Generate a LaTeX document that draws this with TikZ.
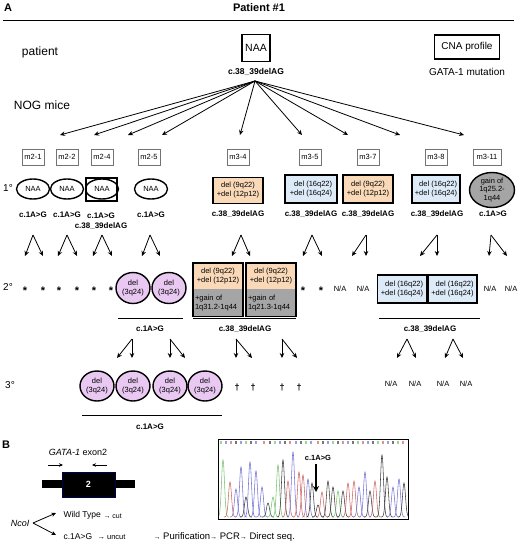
\documentclass[tikz,border=0pt]{standalone}
\usepackage{fontspec}
\setmainfont{Liberation Sans}
\usetikzlibrary{arrows.meta,shapes.geometric}
\definecolor{peach}{RGB}{250,217,184}
\definecolor{ltblue}{RGB}{221,235,248}
\definecolor{cnagray}{RGB}{165,165,165}
\definecolor{lilac}{RGB}{233,200,242}
\definecolor{chgreen}{RGB}{120,195,110}
\definecolor{chred}{RGB}{205,100,100}
\definecolor{chblue}{RGB}{115,115,215}
\definecolor{chblack}{RGB}{60,60,60}
\begin{document}
\begin{tikzpicture}[x=1pt,y=-1pt,
  arr/.style={line width=0.8pt,-{Stealth[length=5pt,width=4.5pt]}},
  mbox/.style={draw=black!55,fill=white,line width=0.7pt,minimum width=22pt,minimum height=16pt,inner sep=1pt,font=\fontsize{7.5}{8}\selectfont},
  naael/.style={ellipse,draw,line width=1.4pt,minimum width=33pt,minimum height=20pt,inner sep=0pt,font=\fontsize{7.5}{8}\selectfont},
  cbox/.style={draw,line width=1.5pt,minimum width=50pt,minimum height=26pt,inner sep=1pt,align=center,font=\fontsize{7.5}{9}\selectfont},
  pel/.style={ellipse,draw,line width=1.4pt,fill=lilac,minimum width=34pt,minimum height=31pt,inner sep=0pt,align=center,font=\fontsize{7.5}{8.5}\selectfont},
  mut/.style={font=\bfseries\fontsize{8}{10}\selectfont,align=center},
  big/.style={font=\fontsize{12}{14}\selectfont},
  deg/.style={font=\fontsize{10}{12}\selectfont},
  star/.style={font=\bfseries\fontsize{11}{12}\selectfont},
  na/.style={font=\fontsize{7.5}{9}\selectfont},
  btxt/.style={font=\fontsize{8.5}{10}\selectfont,anchor=west},
  uline/.style={line width=0.7pt}
]
\useasboundingbox (0,0) rectangle (520,545);

% header
\node[font=\bfseries\fontsize{11}{12}\selectfont] (labA) at (8,8) {A};
\node[font=\bfseries\fontsize{11}{12}\selectfont] (title) at (259,8) {Patient \#1};
\draw[line width=0.8pt] (3,20) -- (514,20);

\node[big] (patient) at (40,52) {patient};
\node[big] (nog) at (42,105) {NOG mice};
\node[draw,line width=1.5pt,minimum width=28pt,minimum height=27pt,inner sep=0pt,font=\fontsize{10.5}{12}\selectfont] (naa) at (256,48) {NAA};
\node[mut,font=\bfseries\fontsize{8.5}{10}\selectfont] (naamut) at (256,72) {c.38\_39delAG};
\node[draw,line width=1.5pt,minimum width=65pt,minimum height=24pt,inner sep=0pt,font=\fontsize{10}{12}\selectfont] (cna) at (467,47) {CNA profile};
\node[font=\fontsize{10}{12}\selectfont] (gata) at (467,72) {GATA-1 mutation};

% arrows from patient to mice
\coordinate (src) at (255,81);
\foreach \i/\x in {1/60,2/94,3/128,4/162,5/240,6/302,7/348,8/400,9/464}{
  \coordinate (t\i) at (\x,135);
  \draw[arr] (src) -- (t\i);
}

% mouse boxes
\node[mbox] (m21) at (33,157) {m2-1};
\node[mbox] (m22) at (67,157) {m2-2};
\node[mbox] (m24) at (102,157) {m2-4};
\node[mbox] (m25) at (149,157) {m2-5};
\node[mbox] (m34) at (238,157) {m3-4};
\node[mbox] (m35) at (310,157) {m3-5};
\node[mbox] (m37) at (368,157) {m3-7};
\node[mbox] (m38) at (436,157) {m3-8};
\node[mbox,minimum width=28pt] (m311) at (487,157) {m3-11};

% primary
\node[deg] (d1) at (8,188) {1°};
\node[naael] (p21) at (33,189) {NAA};
\node[naael] (p22) at (67,189) {NAA};
\node[naael] (p24) at (102,189) {NAA};
\node[draw,line width=1.5pt,minimum width=31pt,minimum height=23pt,inner sep=0pt] (p24box) at (101.5,189.5) {};
\node[naael] (p25) at (151,189) {NAA};
\node[cbox,fill=peach] (p34) at (238,190.5) {del (9q22)\\+del (12p12)};
\node[cbox,fill=ltblue,align=right,minimum width=52pt,minimum height=28pt] (p35) at (311,189) {del (16q22)\\+del (16q24)};
\node[cbox,fill=peach,minimum height=28pt] (p37) at (368,189) {del (9q22)\\+del (12p12)};
\node[cbox,fill=ltblue,align=right,minimum width=48pt,minimum height=28pt] (p38) at (436,189) {del (16q22)\\+del (16q24)};
\node[ellipse,draw,line width=1.4pt,fill=cnagray,minimum width=45pt,minimum height=35pt,inner sep=0pt,align=center,font=\fontsize{7.5}{8.5}\selectfont] (p311) at (492,190) {gain of\\1q25.2-\\1q44};

\node[mut] (u21) at (33,215) {c.1A>G};
\node[mut] (u22) at (67,215) {c.1A>G};
\node[mut] (u24) at (101,221) {c.1A>G\\c.38\_39delAG};
\node[mut] (u25) at (151,215) {c.1A>G};
\node[mut] (u34) at (238,214) {c.38\_39delAG};
\node[mut] (u35) at (311,214) {c.38\_39delAG};
\node[mut] (u37) at (368,214) {c.38\_39delAG};
\node[mut] (u38) at (437,214) {c.38\_39delAG};
\node[mut] (u311) at (493,214) {c.1A>G};

% arrows primary -> secondary
\foreach \i/\a/\l/\r in {1/33/25/43,2/67/58/77,3/102/93/112,4/150/142/160,5/241/232/250,6/312/303/322,7/366/352/366,8/437/420/437,9/491/489/507}{
  \coordinate (ap\i) at (\a,235);
  \coordinate (al\i) at (\l,256);
  \coordinate (ar\i) at (\r,256);
  \draw[arr] (ap\i) -- (al\i);
  \draw[arr] (ap\i) -- (ar\i);
}

% secondary
\node[deg] (d2) at (8,287) {2°};
\foreach \i/\x in {1/25,2/43,3/59,4/77,5/94,6/111,7/303,8/321}{
  \node[star] (s\i) at (\x,291) {*};
}
\node[pel] (q1) at (133,288) {del\\(3q24)};
\node[pel] (q2) at (169,288) {del\\(3q24)};

\node[fill=peach,minimum width=50pt,minimum height=26pt,inner sep=1pt,align=center,font=\fontsize{7.5}{9}\selectfont] (c1t) at (218,276) {del (9q22)\\+del (12p12)};
\node[fill=cnagray,minimum width=50pt,minimum height=27pt,inner sep=1pt,align=left,anchor=north,font=\fontsize{7.5}{9}\selectfont,text width=46pt] (c1b) at (c1t.south) {+gain of\\1q31.2-1q44};
\draw[line width=1.5pt] (c1t.north west) rectangle (c1b.south east);
\node[fill=peach,minimum width=50pt,minimum height=26pt,inner sep=1pt,align=center,font=\fontsize{7.5}{9}\selectfont] (c2t) at (271,276) {del (9q22)\\+del (12p12)};
\node[fill=cnagray,minimum width=50pt,minimum height=27pt,inner sep=1pt,align=left,anchor=north,font=\fontsize{7.5}{9}\selectfont,text width=46pt] (c2b) at (c2t.south) {+gain of\\1q21.3-1q44};
\draw[line width=1.5pt] (c2t.north west) rectangle (c2b.south east);

\node[na] (n1) at (340,289) {N/A};
\node[na] (n2) at (363,289) {N/A};
\node[cbox,fill=ltblue,align=right,minimum width=49pt,minimum height=28pt] (b1) at (402,289) {del (16q22)\\+del (16q24)};
\node[cbox,fill=ltblue,align=right,minimum width=49pt,minimum height=28pt] (b2) at (452.5,289) {del (16q22)\\+del (16q24)};
\node[na] (n3) at (490,289) {N/A};
\node[na] (n4) at (511,289) {N/A};

\draw[uline] (118,318) -- (183,318);
\node[mut] (v1) at (150,329) {c.1A>G};
\draw[uline] (193,318) -- (296,318);
\node[mut] (v2) at (245,329) {c.38\_39delAG};
\draw[uline] (379,318) -- (480,318);
\node[mut] (v3) at (430,329) {c.38\_39delAG};

% arrows secondary -> tertiary
\foreach \i/\a/\l/\r in {1/132/117/132,2/170/170/185,3/236/236/252,4/282/282/297,5/407/397/416,6/453/445/463}{
  \coordinate (bp\i) at (\a,339);
  \coordinate (bl\i) at (\l,358);
  \coordinate (br\i) at (\r,358);
  \draw[arr] (bp\i) -- (bl\i);
  \draw[arr] (bp\i) -- (br\i);
}

% tertiary
\node[deg] (d3) at (10,385) {3°};
\node[pel,minimum height=30pt] (r1) at (97,386) {del\\(3q24)};
\node[pel,minimum height=30pt] (r2) at (133,386) {del\\(3q24)};
\node[pel,minimum height=30pt] (r3) at (170,386) {del\\(3q24)};
\node[pel,minimum height=30pt] (r4) at (205,386) {del\\(3q24)};
\foreach \i/\x in {1/237,2/253,3/282,4/299}{
  \node[font=\bfseries\fontsize{9}{10}\selectfont] (dg\i) at (\x,388) {†};
}
\node[na] (n5) at (391,384) {N/A};
\node[na] (n6) at (415,384) {N/A};
\node[na] (n7) at (443,384) {N/A};
\node[na] (n8) at (466,384) {N/A};
\draw[uline] (82,415) -- (222,415);
\node[mut] (v4) at (150,427) {c.1A>G};

% panel B
\node[font=\bfseries\fontsize{11}{12}\selectfont] (labB) at (6,445) {B};
\node[font=\fontsize{9}{11}\selectfont] (exlab) at (78,452) {\textit{GATA-1} exon2};
\coordinate (fa1) at (48,465); \coordinate (fa2) at (63,465);
\coordinate (ra1) at (107,465); \coordinate (ra2) at (92,465);
\draw[line width=1pt,-{Stealth[length=4pt,width=3.5pt]}] (fa1) -- (fa2);
\draw[line width=1pt,-{Stealth[length=4pt,width=3.5pt]}] (ra1) -- (ra2);
\fill[black] (42,480) rectangle (135,488);
\node[fill=black,draw=black!70!blue,minimum width=53pt,minimum height=25pt,inner sep=0pt,text=white,font=\bfseries\fontsize{9}{10}\selectfont] (exon) at (88.5,484.5) {2};

\node[font=\itshape\fontsize{9}{11}\selectfont,anchor=east] (nco) at (33,523) {NcoI};
\coordinate (wt) at (56,513);
\coordinate (mt) at (56,535);
\draw[line width=0.8pt,-{Stealth[length=4.5pt,width=4pt]}] (nco.east) -- (wt);
\draw[line width=0.8pt,-{Stealth[length=4.5pt,width=4pt]}] (nco.east) -- (mt);
\node[btxt] (wtt) at (60,515) {Wild Type};
\node[btxt] (cut) at (100,516) {\fontsize{7}{8}\selectfont → cut};
\node[btxt] (mtt) at (60,537) {c.1A>G};
\node[btxt] (unc) at (94,537.5) {\fontsize{7.5}{8}\selectfont → uncut};
\node[btxt,font=\fontsize{9.5}{11}\selectfont] (seq) at (150,537) {{\fontsize{7}{8}\selectfont →} Purification{\fontsize{7}{8}\selectfont →} PCR{\fontsize{7}{8}\selectfont →} Direct seq.};

% chromatogram
\begin{scope}
\clip (218,439) rectangle (408,519);
\foreach \c/\h/\col in {223/57/chgreen,230/35/chred,236/28/chblue,241/50/chblue,246/20/chblack,250/55/chblue,256/46/chblue,262/30/chblue,268/14/chblack,273/20/chgreen,278/52/chgreen,283/57/chblack,288/36/chred,293/65/chblue,299/45/chred,303/42/chred,308/38/chblue,312/34/chblack,318/12/chblack,322/25/chred,328/36/chblack,333/30/chblack,338/26/chgreen,343/26/chblack,348/34/chred,354/36/chred,359/30/chblue,365/45/chblue,370/26/chblack,375/36/chred,382/62/chblack,387/40/chblack,393/30/chblue,399/38/chblue,404/34/chblack}{
  \draw[\col,line width=0.55pt] plot[domain=\c-6:\c+6,samples=25,smooth] (\x,{517-\h*exp(-(\x-\c)*(\x-\c)/4.5)});
}
\foreach \x/\col in {221/chgreen,226/chblue,231/chred,236/chblack,241/chblue,246/chgreen,251/chblack,256/chblue,264/chred,270/chblack,275/chgreen,280/chblue,285/chblack,290/chred,296/chblue,301/chblack,306/chgreen,311/chblue,318/chred,323/chblack,328/chblue,333/chgreen,338/chblack,343/chred,348/chblue,353/chblack,358/chgreen,363/chred,368/chblue,373/chblack,378/chgreen,383/chred,388/chblue,393/chblack,398/chgreen,403/chred}{
  \fill[\col!70] (\x-1,441) rectangle (\x+1,444);
}
\end{scope}
\node[draw,line width=0.9pt,minimum width=190pt,minimum height=80pt,inner sep=0pt] (chrom) at (313,479) {};
\node[font=\bfseries\fontsize{7.5}{9}\selectfont] (mutlab) at (318,458) {c.1A>G};
\coordinate (ma1) at (316,464);
\coordinate (ma2) at (316,492);
\draw[line width=1.8pt,-{Stealth[length=6pt,width=6pt]}] (ma1) -- (ma2);
\end{tikzpicture}
\end{document}
